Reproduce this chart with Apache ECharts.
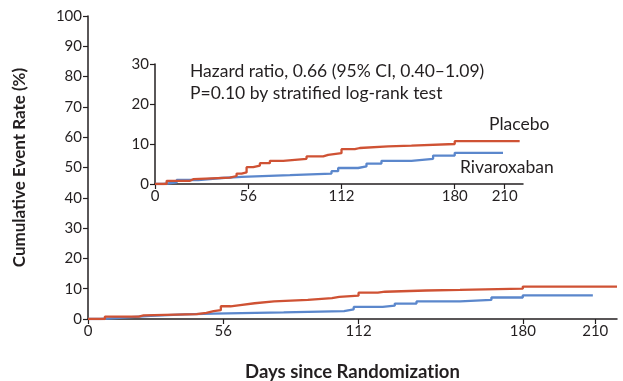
<!DOCTYPE html>
<html>
<head>
<meta charset="utf-8">
<script src="https://cdn.jsdelivr.net/npm/echarts@6/dist/echarts.min.js"></script>
<style>
  html, body { margin: 0; padding: 0; background: #fff; }
  #chart { width: 623px; height: 381px; }
</style>
</head>
<body>
<div id="chart"></div>
<script>
// tick labels
const xTicks = [0, 56, 112, 180, 210]

// Kaplan-Meier step points
const placeboDays = [0, 7, 21, 23, 45, 49, 52, 55, 59, 63, 69, 77, 91, 101, 104, 112, 120, 123, 140, 154, 180, 219]
const placeboRate = [0, 0.8, 1.2, 1.6, 2.0, 2.6, 2.9, 4.2, 4.6, 5.2, 5.8, 6.3, 6.9, 7.3, 7.7, 8.7, 9.0, 9.4, 9.6, 10.0, 10.7, 10.7]
const rivaDays = [0, 5, 13, 26, 40, 52, 81, 106, 110, 122, 127, 136, 154, 167, 180, 209]
const rivaRate = [0, 0.4, 1.0, 1.5, 1.8, 2.2, 2.6, 3.2, 4.0, 4.4, 5.1, 5.8, 6.3, 7.1, 7.8, 7.8]

const RED = '#cf5234'
const BLUE = '#5b87cc'
const INK = '#231f20'
const FONT = 'Lato'

const zip = (xs, ys) => xs.map((x, i) => [x, ys[i]])

const axisCommon = {
  axisLine: { show: true, lineStyle: { color: INK, width: 1.5 } },
  axisTick: { show: true, length: 5, lineStyle: { color: INK, width: 1.2 } },
  splitLine: { show: false },
  axisLabel: { color: INK, fontFamily: FONT, fontSize: 15 }
}

const xAxisFor = (gridIndex, max) => ({
  ...axisCommon,
  type: 'value',
  gridIndex,
  min: 0,
  max,
  axisTick: { ...axisCommon.axisTick, customValues: xTicks },
  axisLabel: { ...axisCommon.axisLabel, customValues: xTicks, margin: 5 }
})

const stepSeries = (name, days, rate, color, idx) => ({
  name,
  type: 'line',
  step: 'end',
  xAxisIndex: idx,
  yAxisIndex: idx,
  symbol: 'none',
  lineStyle: { color, width: 2.3 },
  data: zip(days, rate),
  z: 3
})

const chart = echarts.init(document.getElementById('chart'))

chart.setOption({
  animation: false,
  backgroundColor: '#fff',
  grid: [
    { left: 88, right: 6, top: 16, bottom: 62, outerBoundsMode: 'none' },
    { left: 155, right: 100, top: 64, bottom: 197, outerBoundsMode: 'none' }
  ],
  xAxis: [
    {
      ...xAxisFor(0, 219),
      // ZWNJ keeps Lato from drawing a "ti" ligature
      name: 'Days since Randomizat\u200Cion',
      nameLocation: 'middle',
      nameGap: 44,
      nameTextStyle: { color: INK, fontFamily: FONT, fontSize: 18.5, fontWeight: 'bold' }
    },
    xAxisFor(1, 221)
  ],
  yAxis: [
    {
      ...axisCommon,
      type: 'value',
      gridIndex: 0,
      min: 0,
      max: 100,
      interval: 10,
      axisLabel: { ...axisCommon.axisLabel, margin: 6 },
      name: 'Cumulative Event Rate (%)',
      nameLocation: 'middle',
      nameGap: 60,
      nameTextStyle: { color: INK, fontFamily: FONT, fontSize: 17, fontWeight: 'bold' }
    },
    {
      ...axisCommon,
      type: 'value',
      gridIndex: 1,
      min: 0,
      max: 30,
      interval: 10,
      axisLabel: { ...axisCommon.axisLabel, margin: 6 }
    }
  ],
  graphic: [
    {
      type: 'text', left: 190, top: 62,
      style: { text: 'Hazard ratio, 0.66 (95% CI, 0.40\u20131.09)', fill: INK, font: '17.5px ' + FONT }
    },
    {
      type: 'text', left: 190, top: 84,
      style: { text: 'P=0.10 by strat\u200Cified log-rank test', fill: INK, font: '17.5px ' + FONT }
    },
    {
      type: 'text', left: 489, top: 115,
      style: { text: 'Placebo', fill: INK, font: '17.5px ' + FONT }
    },
    {
      type: 'text', left: 460, top: 158,
      style: { text: 'Rivaroxaban', fill: INK, font: '17.5px ' + FONT }
    }
  ],
  series: [
    stepSeries('Rivaroxaban', rivaDays, rivaRate, BLUE, 0),
    stepSeries('Placebo', placeboDays, placeboRate, RED, 0),
    stepSeries('Rivaroxaban', rivaDays, rivaRate, BLUE, 1),
    stepSeries('Placebo', placeboDays, placeboRate, RED, 1)
  ]
})
</script>
</body>
</html>
